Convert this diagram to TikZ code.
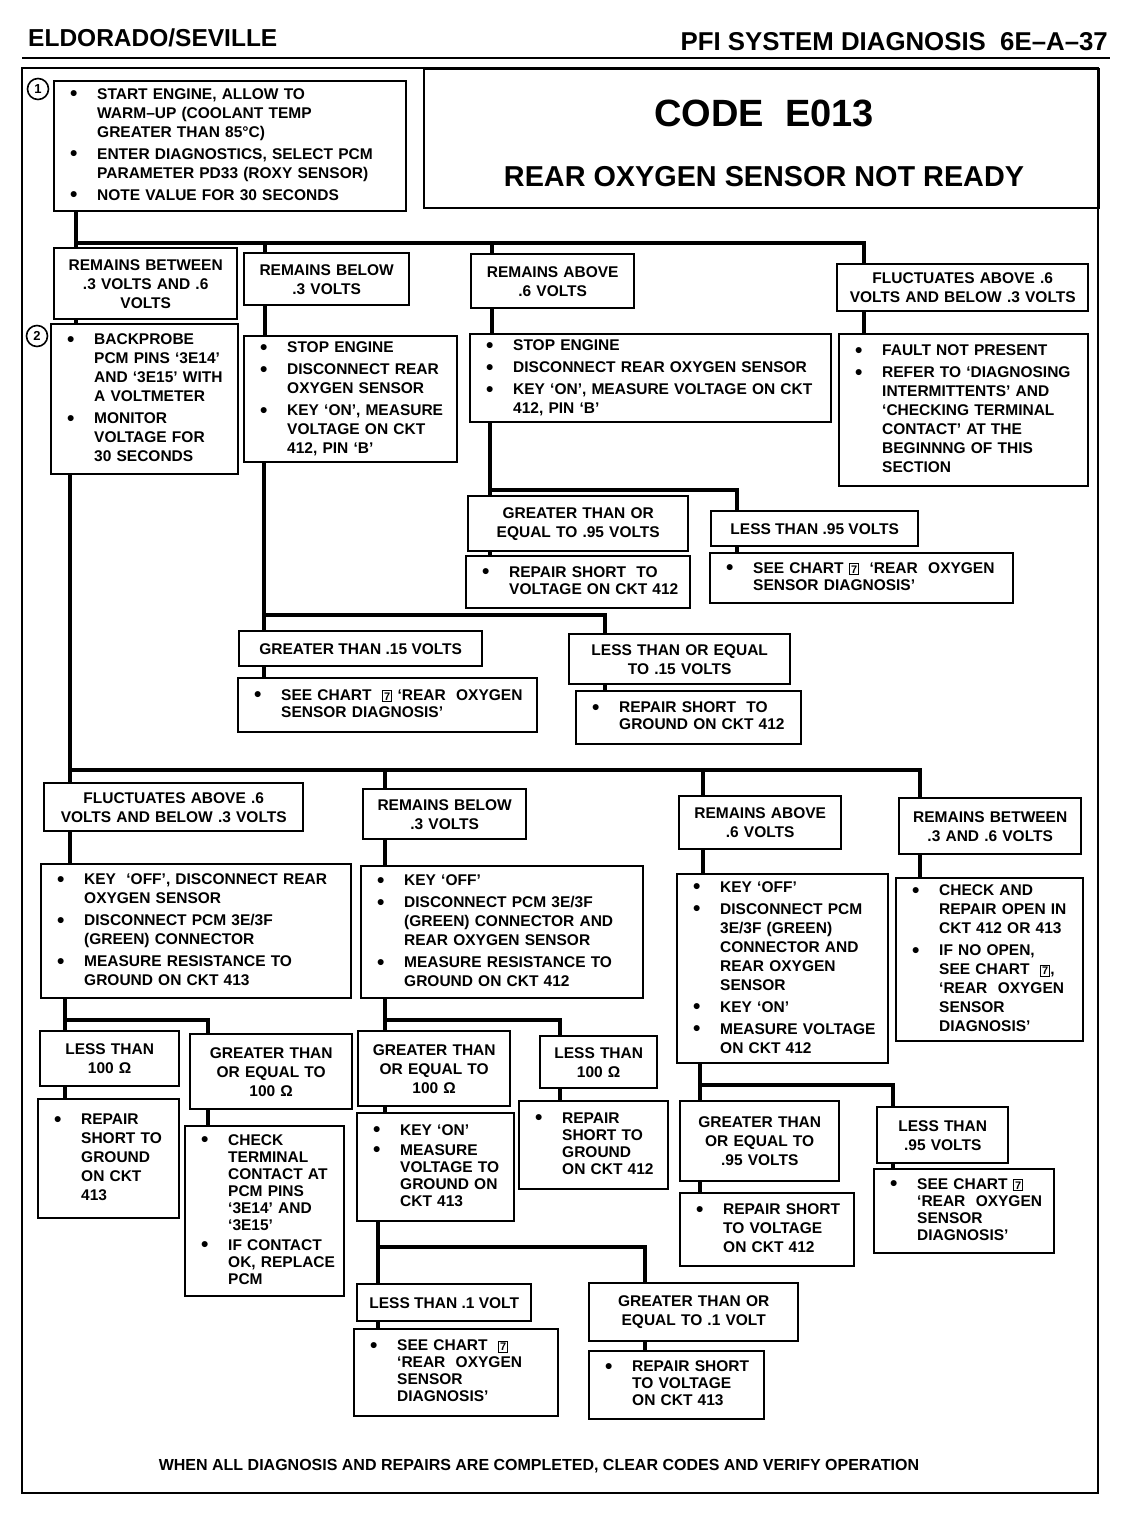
\documentclass[tikz,border=0pt]{standalone}
\usepackage{fontspec}
\setmainfont{Liberation Sans}
\usetikzlibrary{calc}
\newcommand\bodyfont{\bfseries\fontsize{15.5}{19}\selectfont}
\newcommand\densefont{\bfseries\fontsize{15.5}{17}\selectfont}
\newcommand\blt{\raisebox{-1.5pt}{\fontsize{21}{0}\selectfont\textbullet}}
\newcommand\chartno{{\fboxsep=1.2pt\fboxrule=1pt\fbox{\fontsize{11}{11}\selectfont 7}}}
\newenvironment{bullets}{\begin{tabular}[t]{@{\hspace{4pt}}p{27pt}@{}l@{}}}{\end{tabular}}
\tikzset{
  cond/.style={draw, line width=2.4pt, anchor=north west, inner xsep=12pt, inner ysep=3pt,
               align=center, font=\bodyfont},
  act/.style={cond, align=left},
  dense/.style={act, font=\densefont},
  wire/.style={line width=3.4pt, line cap=rect},
  stepno/.style={circle, draw, line width=1.6pt, inner sep=0pt, minimum size=21pt,
                 font=\bfseries\fontsize{13}{13}\selectfont},
  frame/.style={line width=2.6pt}
}

\begin{document}
\begin{tikzpicture}[x=1pt, y=-1pt]
    \useasboundingbox (0,0) rectangle (1120,1520);
    \node[anchor=base west, inner sep=0pt, font=\bfseries\fontsize{24.5}{25}\selectfont] (make) at (28,47) {ELDORADO/SEVILLE};
    \node[anchor=base east, inner sep=0pt, font=\bfseries\fontsize{25.8}{26}\selectfont] (page) at (1108,51) {PFI SYSTEM DIAGNOSIS\ \ 6E--A--37};
    \draw[frame] (22,58) -- (1110,58);
    \draw[frame] (22,68) rectangle (1098,1493);
    \node[draw, line width=2.4pt, anchor=north west, minimum width=675, minimum height=139] (titlebox) at (423,68) {};
    \node[font=\bfseries\fontsize{38}{38}\selectfont] (code) at (764,113) {CODE\ \ E013};
    \node[font=\bfseries\fontsize{28.8}{29}\selectfont] (subject) at (764,177) {REAR OXYGEN SENSOR NOT READY};

    \node[stepno] (n1) at (38,89) {1};
    \node[stepno] (n2) at (37,336) {2};

    \node[act, text width=328, minimum height=130] (s1) at (53,80) {\begin{bullets}
      \blt & START ENGINE, ALLOW TO\\
           & WARM--UP (COOLANT TEMP\\
           & GREATER THAN 85°C)\\[3pt]
      \blt & ENTER DIAGNOSTICS, SELECT PCM\\
           & PARAMETER PD33 (ROXY SENSOR)\\[3pt]
      \blt & NOTE VALUE FOR 30 SECONDS
    \end{bullets}};

    \node[cond, text width=159, minimum height=71] (ra) at (53,247) {REMAINS BETWEEN\\ .3 VOLTS AND .6\\ VOLTS};
    \node[cond, text width=141, minimum height=52] (rb) at (243,252) {REMAINS BELOW\\ .3 VOLTS};
    \node[cond, text width=139, minimum height=54] (rc) at (470,253) {REMAINS ABOVE\\ .6 VOLTS};
    \node[cond, text width=227, minimum height=47] (rd) at (836,263) {FLUCTUATES ABOVE .6\\ VOLTS AND BELOW .3 VOLTS};

    \node[act, text width=163, minimum height=150] (a2) at (50,323) {\begin{bullets}
      \blt & BACKPROBE\\ & PCM PINS `3E14'\\ & AND `3E15' WITH\\ & A VOLTMETER\\[3pt]
      \blt & MONITOR\\ & VOLTAGE FOR\\ & 30 SECONDS
    \end{bullets}};
    \node[act, text width=189, minimum height=125] (b2) at (243,335) {\begin{bullets}
      \blt & STOP ENGINE\\[3pt]
      \blt & DISCONNECT REAR\\ & OXYGEN SENSOR\\[3pt]
      \blt & KEY `ON', MEASURE\\ & VOLTAGE ON CKT\\ & 412, PIN `B'
    \end{bullets}};
    \node[act, text width=337, minimum height=87] (c2) at (469,333) {\begin{bullets}
      \blt & STOP ENGINE\\[3pt]
      \blt & DISCONNECT REAR OXYGEN SENSOR\\[3pt]
      \blt & KEY `ON', MEASURE VOLTAGE ON CKT\\ & 412, PIN `B'
    \end{bullets}};
    \node[act, text width=225, minimum height=152] (d2) at (838,333) {\begin{bullets}
      \blt & FAULT NOT PRESENT\\[3pt]
      \blt & REFER TO `DIAGNOSING\\ & INTERMITTENTS' AND\\ & `CHECKING TERMINAL\\
           & CONTACT' AT THE\\ & BEGINNNG OF THIS\\ & SECTION
    \end{bullets}};

    \node[cond, text width=196, minimum height=55] (c3a) at (467,495) {GREATER THAN OR\\ EQUAL TO .95 VOLTS};
    \node[cond, minimum width=207, minimum height=35] (c3b) at (710,510) {LESS THAN .95 VOLTS};
    \node[dense, text width=200, minimum height=52] (c4a) at (465,555) {\begin{bullets}
      \blt & REPAIR SHORT\ \ TO\\ & VOLTAGE ON CKT 412
    \end{bullets}};
    \node[dense, text width=279, minimum height=50] (c4b) at (709,552) {\begin{bullets}
      \blt & SEE CHART \chartno\ \ `REAR\ \ OXYGEN\\ & SENSOR DIAGNOSIS'
    \end{bullets}};

    \node[cond, minimum width=243, minimum height=35] (b3a) at (238,630) {GREATER THAN .15 VOLTS};
    \node[cond, text width=197, minimum height=50] (b3b) at (568,633) {LESS THAN OR EQUAL\\ TO .15 VOLTS};
    \node[dense, text width=275, minimum height=54] (b4a) at (237,677) {\begin{bullets}
      \blt & SEE CHART\ \ \chartno\ `REAR\ \ OXYGEN\\ & SENSOR DIAGNOSIS'
    \end{bullets}};
    \node[dense, text width=201, minimum height=53] (b4b) at (575,690) {\begin{bullets}
      \blt & REPAIR SHORT\ \ TO\\ & GROUND ON CKT 412
    \end{bullets}};

    \node[cond, text width=235, minimum height=48] (e1) at (43,782) {FLUCTUATES ABOVE .6\\ VOLTS AND BELOW .3 VOLTS};
    \node[cond, text width=139, minimum height=50] (f1) at (362,788) {REMAINS BELOW\\ .3 VOLTS};
    \node[cond, text width=138, minimum height=53] (g1) at (678,795) {REMAINS ABOVE\\ .6 VOLTS};
    \node[cond, text width=158, minimum height=56] (h1) at (898,797) {REMAINS BETWEEN\\ .3 AND .6 VOLTS};

    \node[act, text width=286, minimum height=134] (e2) at (40,863) {\begin{bullets}
      \blt & KEY\ \ `OFF', DISCONNECT REAR\\ & OXYGEN SENSOR\\[3pt]
      \blt & DISCONNECT PCM 3E/3F\\ & (GREEN) CONNECTOR\\[3pt]
      \blt & MEASURE RESISTANCE TO\\ & GROUND ON CKT 413
    \end{bullets}};
    \node[act, text width=258, minimum height=132] (f2) at (360,865) {\begin{bullets}
      \blt & KEY `OFF'\\[3pt]
      \blt & DISCONNECT PCM 3E/3F\\ & (GREEN) CONNECTOR AND\\ & REAR OXYGEN SENSOR\\[3pt]
      \blt & MEASURE RESISTANCE TO\\ & GROUND ON CKT 412
    \end{bullets}};
    \node[act, text width=187, minimum height=189] (g2) at (676,873) {\begin{bullets}
      \blt & KEY `OFF'\\[3pt]
      \blt & DISCONNECT PCM\\ & 3E/3F (GREEN)\\ & CONNECTOR AND\\ & REAR OXYGEN\\ & SENSOR\\[3pt]
      \blt & KEY `ON'\\[3pt]
      \blt & MEASURE VOLTAGE\\ & ON CKT 412
    \end{bullets}};
    \node[act, text width=163, minimum height=163] (h2) at (895,877) {\begin{bullets}
      \blt & CHECK AND\\ & REPAIR OPEN IN\\ & CKT 412 OR 413\\[3pt]
      \blt & IF NO OPEN,\\ & SEE CHART\ \ \chartno,\\ & `REAR\ \ OXYGEN\\ & SENSOR\\ & DIAGNOSIS'
    \end{bullets}};

    \node[cond, text width=115, minimum height=55] (e3a) at (39,1030) {LESS THAN\\ 100 Ω};
    \node[cond, text width=138, minimum height=75] (e3b) at (189,1033) {GREATER THAN\\ OR EQUAL TO\\ 100 Ω};
    \node[act, text width=117, minimum height=119] (e4a) at (37,1098) {\begin{bullets}
      \blt & REPAIR\\ & SHORT TO\\ & GROUND\\ & ON CKT\\ & 413
    \end{bullets}};
    \node[dense, text width=135, minimum height=170] (e4b) at (184,1125) {\begin{bullets}
      \blt & CHECK\\ & TERMINAL\\ & CONTACT AT\\ & PCM PINS\\ & `3E14' AND\\ & `3E15'\\[3pt]
      \blt & IF CONTACT\\ & OK, REPLACE\\ & PCM
    \end{bullets}};

    \node[cond, text width=128, minimum height=75] (f3a) at (357,1030) {GREATER THAN\\ OR EQUAL TO\\ 100 Ω};
    \node[cond, text width=93, minimum height=52] (f3b) at (539,1035) {LESS THAN\\ 100 Ω};
    \node[dense, text width=133, minimum height=108] (f4a) at (356,1112) {\begin{bullets}
      \blt & KEY `ON'\\[3pt]
      \blt & MEASURE\\ & VOLTAGE TO\\ & GROUND ON\\ & CKT 413
    \end{bullets}};
    \node[dense, text width=125, minimum height=88] (f4b) at (518,1100) {\begin{bullets}
      \blt & REPAIR\\ & SHORT TO\\ & GROUND\\ & ON CKT 412
    \end{bullets}};

    \node[cond, minimum width=174, minimum height=37] (f5a) at (356,1283) {LESS THAN .1 VOLT};
    \node[cond, text width=185, minimum height=58] (f5b) at (588,1282) {GREATER THAN OR\\ EQUAL TO .1 VOLT};
    \node[dense, text width=180, minimum height=87] (f6a) at (353,1328) {\begin{bullets}
      \blt & SEE CHART\ \ \chartno\\ & `REAR\ \ OXYGEN\\ & SENSOR\\ & DIAGNOSIS'
    \end{bullets}};
    \node[dense, text width=151, minimum height=68] (f6b) at (588,1350) {\begin{bullets}
      \blt & REPAIR SHORT\\ & TO VOLTAGE\\ & ON CKT 413
    \end{bullets}};

    \node[cond, text width=135, minimum height=80] (g3a) at (679,1100) {GREATER THAN\\ OR EQUAL TO\\ .95 VOLTS};
    \node[cond, text width=107, minimum height=56] (g3b) at (876,1106) {LESS THAN\\ .95 VOLTS};
    \node[act, text width=150, minimum height=73] (g4a) at (679,1192) {\begin{bullets}
      \blt & REPAIR SHORT\\ & TO VOLTAGE\\ & ON CKT 412
    \end{bullets}};
    \node[dense, text width=156, minimum height=84] (g4b) at (873,1168) {\begin{bullets}
      \blt & SEE CHART \chartno\\ & `REAR\ \ OXYGEN\\ & SENSOR\\ & DIAGNOSIS'
    \end{bullets}};

    \node[font=\bfseries\fontsize{16}{19}\selectfont] (note) at (539,1466) {WHEN ALL DIAGNOSIS AND REPAIRS ARE COMPLETED, CLEAR CODES AND VERIFY OPERATION};

    \coordinate (k1) at (76,243);
    \draw[wire] (s1.south -| k1) -- (k1) -| ($(rd.north west)+(28,0)$);
    \foreach \c/\d in {ra/23,rb/22,rc/22}
      \draw[wire] ($(\c.north west)+(\d,0)$) -- ($(\c.north west |- k1)+(\d,0)$);
    \foreach \c/\n/\d in {ra/a2/23,rb/b2/22,rc/c2/22,rd/d2/28}
      \draw[wire] ($(\c.south west)+(\d,0)$) -- ($(\c.south west |- \n.north)+(\d,0)$);

    \coordinate (k2) at (490,490);
    \draw[wire] (c2.south -| k2) -- (k2) -| ($(c3b.north west)+(27,0)$);
    \draw[wire] ($(c3a.north west)+(23,0)$) -- ($(c3a.north west |- k2)+(23,0)$);
    \foreach \c/\n/\d in {c3a/c4a/23,c3b/c4b/27}
      \draw[wire] ($(\c.south west)+(\d,0)$) -- ($(\c.south west |- \n.north)+(\d,0)$);

    \coordinate (k3) at (264,615);
    \draw[wire] (b2.south -| k3) -- (k3) -| ($(b3b.north west)+(37,0)$);
    \draw[wire] ($(b3a.north west)+(26,0)$) -- ($(b3a.north west |- k3)+(26,0)$);
    \foreach \c/\n/\d in {b3a/b4a/26,b3b/b4b/37}
      \draw[wire] ($(\c.south west)+(\d,0)$) -- ($(\c.south west |- \n.north)+(\d,0)$);

    \coordinate (k4) at (70,770);
    \draw[wire] (a2.south -| k4) -- (k4) -| ($(h1.north west)+(22,0)$);
    \foreach \c/\d in {e1/27,f1/23,g1/25}
      \draw[wire] ($(\c.north west)+(\d,0)$) -- ($(\c.north west |- k4)+(\d,0)$);
    \foreach \c/\n/\d in {e1/e2/27,f1/f2/23,g1/g2/25,h1/h2/22}
      \draw[wire] ($(\c.south west)+(\d,0)$) -- ($(\c.south west |- \n.north)+(\d,0)$);

    \coordinate (k5) at (65,1020);
    \draw[wire] (e2.south -| k5) -- (k5) -| ($(e3b.north west)+(19,0)$);
    \draw[wire] ($(e3a.north west)+(26,0)$) -- ($(e3a.north west |- k5)+(26,0)$);
    \foreach \c/\n/\d in {e3a/e4a/26,e3b/e4b/19}
      \draw[wire] ($(\c.south west)+(\d,0)$) -- ($(\c.south west |- \n.north)+(\d,0)$);

    \coordinate (k6) at (385,1020);
    \draw[wire] (f2.south -| k6) -- (k6) -| ($(f3b.north west)+(21,0)$);
    \draw[wire] ($(f3a.north west)+(28,0)$) -- ($(f3a.north west |- k6)+(28,0)$);
    \foreach \c/\n/\d in {f3a/f4a/28,f3b/f4b/21}
      \draw[wire] ($(\c.south west)+(\d,0)$) -- ($(\c.south west |- \n.north)+(\d,0)$);

    \coordinate (k7) at (378,1247);
    \draw[wire] (f4a.south -| k7) -- (k7) -| ($(f5b.north west)+(57,0)$);
    \draw[wire] ($(f5a.north west)+(22,0)$) -- ($(f5a.north west |- k7)+(22,0)$);
    \foreach \c/\n/\d in {f5a/f6a/22,f5b/f6b/57}
      \draw[wire] ($(\c.south west)+(\d,0)$) -- ($(\c.south west |- \n.north)+(\d,0)$);

    \coordinate (k8) at (700,1085);
    \draw[wire] (g2.south -| k8) -- (k8) -| ($(g3b.north west)+(17,0)$);
    \draw[wire] ($(g3a.north west)+(21,0)$) -- ($(g3a.north west |- k8)+(21,0)$);
    \foreach \c/\n/\d in {g3a/g4a/21,g3b/g4b/17}
      \draw[wire] ($(\c.south west)+(\d,0)$) -- ($(\c.south west |- \n.north)+(\d,0)$);
  \end{tikzpicture}
\end{document}
